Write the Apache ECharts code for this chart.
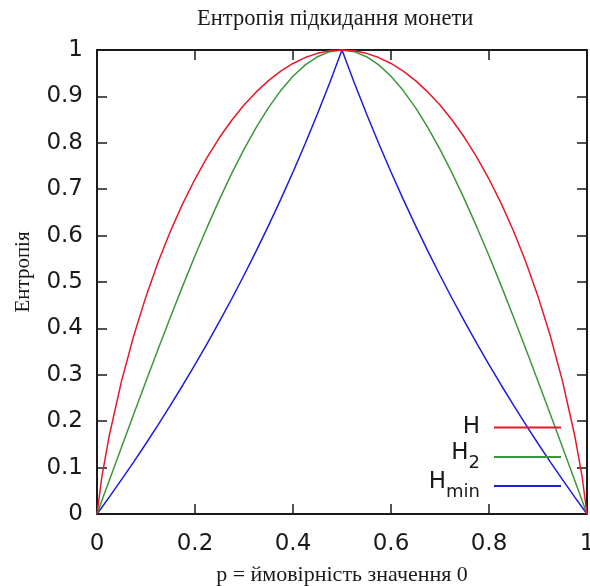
<!DOCTYPE html>
<html>
<head>
<meta charset="utf-8">
<script src="https://cdn.jsdelivr.net/npm/echarts@6/dist/echarts.min.js"></script>
<style>
  html, body { margin: 0; padding: 0; background: #ffffff; overflow: hidden; }
  #chart { width: 590px; height: 586px; }
</style>
</head>
<body>
<div id="chart"></div>
<script>
// Probability of outcome 0
const pValues = [0, 0.01, 0.025, 0.05, 0.075, 0.1, 0.125, 0.15, 0.175, 0.2, 0.225, 0.25, 0.275, 0.3, 0.325, 0.35, 0.375, 0.4, 0.425, 0.45, 0.475, 0.5,
  0.525, 0.55, 0.575, 0.6, 0.625, 0.65, 0.675, 0.7, 0.725, 0.75, 0.775, 0.8, 0.825, 0.85, 0.875, 0.9, 0.925, 0.95, 0.975, 0.99, 1];

// Shannon entropy H
const entropyH = [0, 0.0808, 0.1687, 0.2864, 0.3843, 0.4690, 0.5436, 0.6098, 0.6690, 0.7219, 0.7692, 0.8113, 0.8485, 0.8813, 0.9097, 0.9341, 0.9544, 0.9710, 0.9837, 0.9928, 0.9982, 1,
  0.9982, 0.9928, 0.9837, 0.9710, 0.9544, 0.9341, 0.9097, 0.8813, 0.8485, 0.8113, 0.7692, 0.7219, 0.6690, 0.6098, 0.5436, 0.4690, 0.3843, 0.2864, 0.1687, 0.0808, 0];

// Collision entropy H2
const entropyH2 = [0, 0.0289, 0.0721, 0.1440, 0.2155, 0.2863, 0.3561, 0.4247, 0.4916, 0.5564, 0.6187, 0.6781, 0.7340, 0.7859, 0.8333, 0.8757, 0.9125, 0.9434, 0.9679, 0.9856, 0.9964, 1,
  0.9964, 0.9856, 0.9679, 0.9434, 0.9125, 0.8757, 0.8333, 0.7859, 0.7340, 0.6781, 0.6187, 0.5564, 0.4916, 0.4247, 0.3561, 0.2863, 0.2155, 0.1440, 0.0721, 0.0289, 0];

// Min-entropy Hmin
const entropyHmin = [0, 0.0145, 0.0365, 0.0740, 0.1125, 0.1520, 0.1926, 0.2345, 0.2775, 0.3219, 0.3677, 0.4150, 0.4639, 0.5146, 0.5670, 0.6215, 0.6781, 0.7370, 0.7984, 0.8625, 0.9296, 1,
  0.9296, 0.8625, 0.7984, 0.7370, 0.6781, 0.6215, 0.5670, 0.5146, 0.4639, 0.4150, 0.3677, 0.3219, 0.2775, 0.2345, 0.1926, 0.1520, 0.1125, 0.0740, 0.0365, 0.0145, 0];

const seriesNames = ['H', 'H2', 'Hmin'];
const seriesColors = ['#e8182a', '#3a983a', '#1c1ce0'];
// Legend labels with subscripts
const legendLabels = { 'H': '{solo|H}', 'H2': '{base|H}{sub|2}', 'Hmin': '{base|H}{sub|min}' };

const titleText = 'Ентропія підкидання монети';
const xName = 'p = ймовірність значення 0';
const yName = 'Ентропія';

const sansFont = 'DejaVu Sans';
const serifFont = 'Liberation Serif';
const ink = '#1a1a1a';

const pairs = (ys) => pValues.map((p, i) => [p, ys[i]]);
const seriesData = [entropyH, entropyH2, entropyHmin];

const chart = echarts.init(document.getElementById('chart'), null, { renderer: 'canvas' });

const tickStyle = { show: true, inside: true, length: 10, lineStyle: { color: ink, width: 1.5 } };
const frameLine = { show: true, onZero: false, lineStyle: { color: ink, width: 2 } };

const legendRich = {
  solo: { fontFamily: sansFont, fontSize: 23, color: ink, verticalAlign: 'bottom', padding: [0, 9, 0, 0] },
  base: { fontFamily: sansFont, fontSize: 23, color: ink, verticalAlign: 'bottom', padding: [0, 0, 7, 0] },
  sub: { fontFamily: sansFont, fontSize: 18, color: ink, verticalAlign: 'bottom', padding: [0, 9, 0, 0] }
};

const legendTops = [416, 442, 471];

const legends = seriesNames.map((name, i) => ({
  data: [name],
  right: 28,
  top: legendTops[i],
  padding: 0,
  orient: 'vertical',
  align: 'right',
  itemWidth: 67,
  itemHeight: 14,
  selectedMode: false,
  itemStyle: { opacity: 0 },
  formatter: (n) => legendLabels[n],
  textStyle: { rich: legendRich }
}));

chart.setOption({
  animation: false,
  backgroundColor: '#ffffff',
  title: {
    text: titleText,
    left: 197,
    top: 8,
    padding: 0,
    textStyle: { fontFamily: serifFont, fontSize: 22.5, fontWeight: 'normal', color: ink }
  },
  legend: legends,
  grid: { left: 97, right: 3, top: 50, bottom: 72, containLabel: false, outerBoundsMode: 'none' },
  xAxis: [
    {
      type: 'value', min: 0, max: 1, interval: 0.2, position: 'bottom',
      name: xName, nameLocation: 'middle', nameGap: 50,
      nameTextStyle: { fontFamily: serifFont, fontSize: 22, color: ink },
      axisLine: frameLine, axisTick: tickStyle,
      axisLabel: { fontFamily: sansFont, fontSize: 23, color: ink, margin: 19 },
      splitLine: { show: false }
    },
    {
      type: 'value', min: 0, max: 1, interval: 0.2, position: 'top',
      axisLine: frameLine, axisTick: tickStyle,
      axisLabel: { show: false }, splitLine: { show: false }
    }
  ],
  yAxis: [
    {
      type: 'value', min: 0, max: 1, interval: 0.1, position: 'left',
      name: yName, nameLocation: 'middle', nameGap: 63, nameRotate: 90,
      nameTextStyle: { fontFamily: serifFont, fontSize: 21, color: ink, padding: [0, 0, 0, 20] },
      axisLine: frameLine, axisTick: tickStyle,
      axisLabel: { fontFamily: sansFont, fontSize: 23, color: ink, margin: 14 },
      splitLine: { show: false }
    },
    {
      type: 'value', min: 0, max: 1, interval: 0.1, position: 'right',
      axisLine: frameLine, axisTick: tickStyle,
      axisLabel: { show: false }, splitLine: { show: false }
    }
  ],
  series: seriesNames.map((name, i) => ({
    name: name,
    type: 'line',
    data: pairs(seriesData[i]),
    showSymbol: false,
    symbol: 'none',
    smooth: false,
    lineStyle: { color: seriesColors[i], width: 1.5 },
    itemStyle: { color: seriesColors[i] },
    z: 3 - i
  }))
});
</script>
</body>
</html>
